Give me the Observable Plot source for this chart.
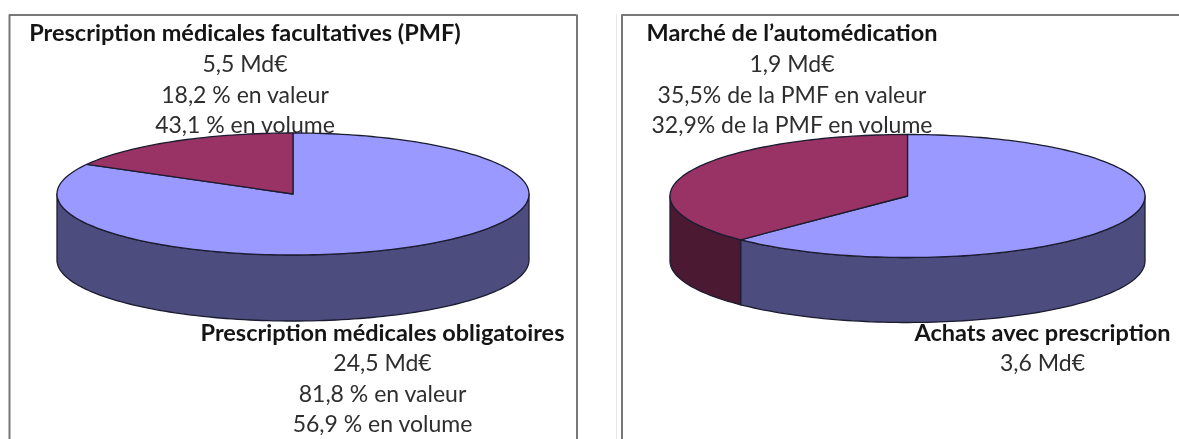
<!DOCTYPE html>
<html lang="fr">
<head>
<meta charset="utf-8">
<title>Prescription et automédication</title>
<script src="https://cdn.jsdelivr.net/npm/d3@7"></script>
<script src="https://cdn.jsdelivr.net/npm/@observablehq/plot@0.6"></script>
<style>
  html, body { margin: 0; padding: 0; background: #fff; }
  #chart svg { display: block; filter: blur(0.6px); }
</style>
</head>
<body>
<div id="chart"></div>
<script>
const leftCategories = ["Prescription médicales obligatoires", "Prescription médicales facultatives (PMF)"];
const leftShares = [83.1, 16.9];
const rightCategories = ["Achats avec prescription", "Marché de l’automédication"];
const rightShares = [62.4, 37.6];

// Label lines
const leftTopLines = ["Prescription médicales facultatives (PMF)", "5,5 Md€", "18,2 % en valeur", "43,1 % en volume"];
const leftBottomLines = ["Prescription médicales obligatoires", "24,5 Md€", "81,8 % en valeur", "56,9 % en volume"];
const rightTopLines = ["Marché de l’automédication", "1,9 Md€", "35,5% de la PMF en valeur", "32,9% de la PMF en volume"];
const rightBottomLines = ["Achats avec prescription", "3,6 Md€"];

// Styling and layout
const topColors = ["#9999ff", "#993366"];
const sideColors = ["#4c4c7f", "#4c1933"];
const edge = "#1c1c30";
const frameColor = "#777";
const W = 1179, H = 439;
const leftPie = {cx: 292.5, cy: 193.5, rx: 236, ry: 61, depth: 66};
const rightPie = {cx: 907, cy: 195.5, rx: 237.5, ry: 61.5, depth: 65};
const leftFrame = {x1: 9, x2: 576.5, y: 14.5};
const rightFrame = {x1: 621.5, x2: W, y: 14.5};
const ghostLineX = 616;

const pt = (p, a, dy = 0) => {
  const t = a * Math.PI / 180;
  return {x: p.cx + p.rx * Math.sin(t), y: p.cy - p.ry * Math.cos(t) + dy};
};
const arc = (p, a0, a1, dy = 0) => {
  const n = Math.max(2, Math.ceil(Math.abs(a1 - a0) / 1.5));
  return d3.range(n + 1).map(i => pt(p, a0 + (a1 - a0) * i / n, dy));
};
const poly = (points, fill) =>
  Plot.line(points, {x: "x", y: "y", fill, stroke: edge, strokeWidth: 1.3, curve: "linear-closed"});

function pieMarks(p, shares) {
  const marks = [];
  let start = 0;
  const spans = shares.map(s => { const a0 = start; start += s * 3.6; return [a0, start]; });
  // side wall: only the front half of the disc shows
  spans.forEach(([a0, a1], i) => {
    const f0 = Math.max(a0, 90), f1 = Math.min(a1, 270);
    if (f1 > f0) marks.push(poly([...arc(p, f0, f1), ...arc(p, f1, f0, p.depth)], sideColors[i]));
  });
  // top face
  spans.forEach(([a0, a1], i) => {
    marks.push(poly([{x: p.cx, y: p.cy}, ...arc(p, a0, a1)], topColors[i]));
  });
  return marks;
}

function labelMark(lines, cx, ys) {
  return [
    Plot.text(lines.slice(0, 1), {x: () => cx, y: (d, i) => ys[0], text: d => d, fontSize: 23.5, fontWeight: "700", fill: "#151515", textAnchor: "middle", lineAnchor: "middle"}),
    Plot.text(lines.slice(1), {x: () => cx, y: (d, i) => ys[i + 1], text: d => d, fontSize: 23, fill: "#2e2e2e", textAnchor: "middle", lineAnchor: "middle"})
  ];
}

const frame = f => [
  Plot.ruleY([f.y], {x1: f.x1, x2: f.x2, stroke: frameColor, strokeWidth: 2}),
  Plot.ruleX([f.x1], {y1: f.y, y2: H, stroke: frameColor, strokeWidth: 2}),
  ...(f.x2 < W ? [Plot.ruleX([f.x2], {y1: f.y, y2: H, stroke: frameColor, strokeWidth: 2})] : [])
];

const chart = Plot.plot({
  width: W, height: H, margin: 0,
  style: {fontFamily: "Lato, Carlito, sans-serif", background: "#fff"},
  x: {domain: [0, W], range: [0, W], axis: null},
  y: {domain: [0, H], range: [0, H], axis: null},
  marks: [
    Plot.ruleX([ghostLineX], {y1: leftFrame.y, y2: H, stroke: "#e6e6e6", strokeWidth: 1}),
    ...frame(leftFrame),
    ...frame(rightFrame),
    ...labelMark(leftTopLines, 244.5, [32.5, 64, 95, 125.5]),
    ...labelMark(rightTopLines, 791.5, [32.5, 64, 95, 125.5]),
    ...pieMarks(leftPie, leftShares),
    ...pieMarks(rightPie, rightShares),
    ...labelMark(leftBottomLines, 382, [333, 363, 394, 424]),
    ...labelMark(rightBottomLines, 1042, [333, 363])
  ]
});
document.getElementById("chart").append(chart);
</script>
</body>
</html>
